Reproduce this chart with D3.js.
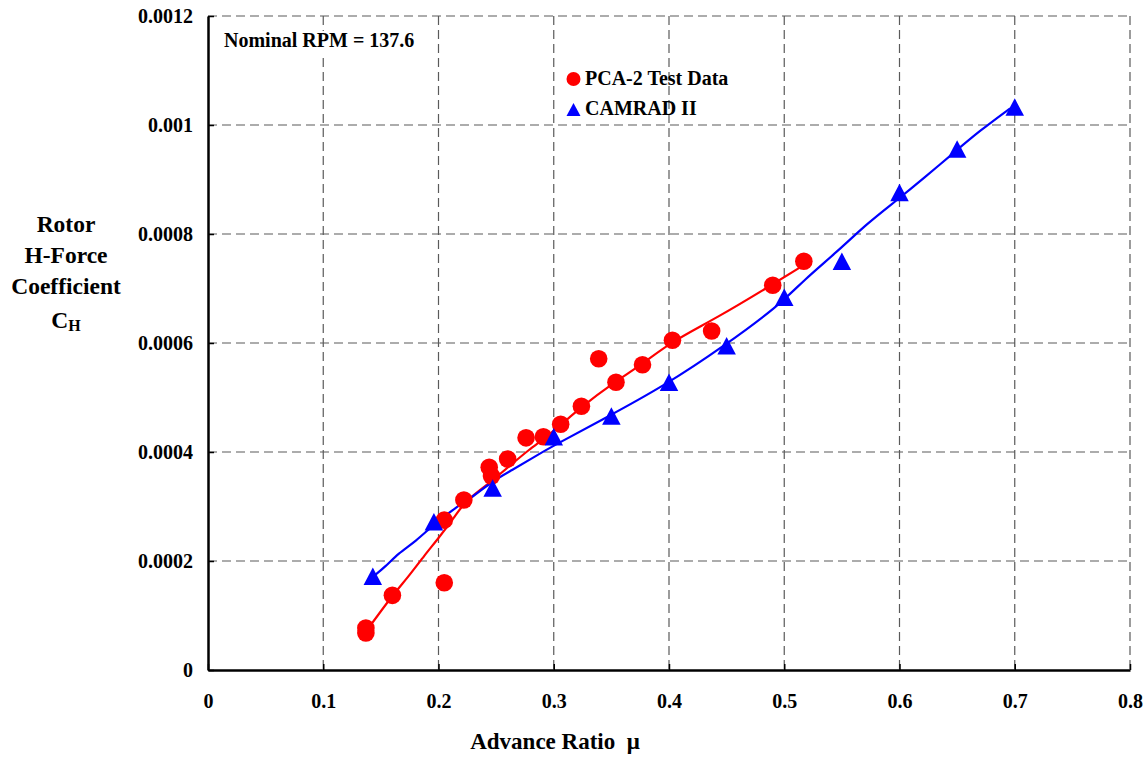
<!DOCTYPE html>
<html><head><meta charset="utf-8">
<script src="https://cdn.jsdelivr.net/npm/d3@7"></script>
<style>body{margin:0;background:#fff}svg{display:block}</style>
</head><body>
<svg id="c" width="1148" height="759"></svg>
<script>
// PCA-2 test data (advance ratio, CH)
const testMu = [0.137,0.137,0.160,0.205,0.205,0.222,0.244,0.246,0.260,0.276,0.291,0.306,0.324,0.339,0.354,0.377,0.403,0.437,0.490,0.517];
const testCH = [0.000077,0.000068,0.000137,0.000160,0.000275,0.000312,0.000372,0.000356,0.000387,0.000426,0.000428,0.000451,0.000484,0.000571,0.000528,0.000560,0.000605,0.000622,0.000706,0.000750];
// CAMRAD II predictions
const camMu = [0.143,0.196,0.247,0.300,0.350,0.400,0.450,0.500,0.550,0.600,0.650,0.700];
const camCH = [0.000172,0.000272,0.000334,0.000428,0.000466,0.000528,0.000595,0.000684,0.000750,0.000876,0.000956,0.001033];
// trend curves
const testTrendMu = [0.136,0.159,0.174,0.188,0.200,0.214,0.223,0.238,0.249,0.261,0.278,0.298,0.324,0.353,0.376,0.402,0.441,0.489,0.517];
const testTrendCH = [0.0000673,0.0001345,0.0001712,0.000211,0.0002417,0.0002813,0.0003088,0.0003334,0.0003517,0.000373,0.0004037,0.0004343,0.0004831,0.000529,0.0005596,0.0006024,0.0006453,0.0007064,0.0007431];
const camTrendMu = [0.143,0.154,0.165,0.180,0.197,0.214,0.232,0.246,0.264,0.281,0.298,0.347,0.397,0.447,0.496,0.517,0.546,0.572,0.598,0.621,0.647,0.670,0.696];
const camTrendCH = [0.000171,0.0001895,0.0002141,0.0002354,0.0002692,0.0002967,0.0003211,0.0003455,0.000367,0.0003884,0.0004097,0.0004648,0.0005229,0.0005932,0.0006697,0.0007156,0.0007675,0.0008196,0.0008624,0.0009022,0.000949,0.000990,0.0010306];
const xTicks = [0,0.1,0.2,0.3,0.4,0.5,0.6,0.7,0.8];
const yTicks = [0,0.0002,0.0004,0.0006,0.0008,0.001,0.0012];
const yTickLabels = ["0","0.0002","0.0004","0.0006","0.0008","0.001","0.0012"];

const svg = d3.select("#c");
const F = "'Liberation Serif','Times New Roman',serif";
const L=208, R=1130, T=16, B=670;
const x = d3.scaleLinear().domain([0,0.8]).range([L,R]);
const y = d3.scaleLinear().domain([0,0.0012]).range([B,T]);

// grid
const g = svg.append("g");
g.selectAll(".vg").data(xTicks.slice(1)).join("line")
  .attr("x1",d=>x(d)).attr("x2",d=>x(d)).attr("y1",T).attr("y2",B)
  .attr("stroke","#5a5a5a").attr("stroke-width",1.2).attr("stroke-dasharray","9,5");
g.selectAll(".hg").data(yTicks.slice(1)).join("line")
  .attr("x1",L).attr("x2",R).attr("y1",d=>y(d)).attr("y2",d=>y(d))
  .attr("stroke","#5a5a5a").attr("stroke-width",1.2).attr("stroke-dasharray","9,5");

// axes
const xAxis = d3.axisBottom(x).tickValues(xTicks).tickSizeInner(-6).tickSizeOuter(0).tickFormat(d=>d===0?"0":d3.format(".1f")(d)).tickPadding(24);
const yAxis = d3.axisLeft(y).tickValues(yTicks).tickSizeInner(-6).tickSizeOuter(0).tickFormat((d,i)=>yTickLabels[i]).tickPadding(15);
const gx = svg.append("g").attr("transform",`translate(0,${B})`).call(xAxis);
const gy = svg.append("g").attr("transform",`translate(${L},0)`).call(yAxis);
[gx,gy].forEach(a=>{
  a.select(".domain").attr("stroke","#000").attr("stroke-width",2.5);
  a.selectAll(".tick line").attr("stroke","#000").attr("stroke-width",1.5);
  a.selectAll(".tick text").attr("font-family",F).attr("font-weight","bold").attr("font-size",20).attr("fill","#000");
});

// trend lines
const line = d3.line().x(d=>x(d[0])).y(d=>y(d[1])).curve(d3.curveBasis);
svg.append("path").datum(testTrendMu.map((m,i)=>[m,testTrendCH[i]]))
  .attr("d",line).attr("fill","none").attr("stroke","#ff0000").attr("stroke-width",2.2);
svg.append("path").datum(camTrendMu.map((m,i)=>[m,camTrendCH[i]]))
  .attr("d",line).attr("fill","none").attr("stroke","#0000ff").attr("stroke-width",2.2);

// markers
svg.selectAll(".pt").data(testMu.map((m,i)=>[m,testCH[i]])).join("circle")
  .attr("cx",d=>x(d[0])).attr("cy",d=>y(d[1])).attr("r",8.8).attr("fill","#ff0000");
const triPath = (w,h)=>`M0,${-h/2}L${w/2},${h/2}L${-w/2},${h/2}Z`;
svg.selectAll(".tr").data(camMu.map((m,i)=>[m,camCH[i]])).join("path")
  .attr("d",triPath(18.5,17.5)).attr("transform",d=>`translate(${x(d[0])},${y(d[1])})`).attr("fill","#0000ff");

// annotation
svg.append("rect").attr("x",219).attr("y",31).attr("width",198).attr("height",22).attr("fill","#fff");
svg.append("text").attr("x",224).attr("y",47).attr("font-family",F).attr("font-weight","bold")
  .attr("font-size",20).text("Nominal RPM = 137.6");

// legend
svg.append("circle").attr("cx",573.5).attr("cy",79).attr("r",7).attr("fill","#ff0000");
svg.append("text").attr("x",585).attr("y",85).attr("font-family",F).attr("font-weight","bold").attr("font-size",20).text("PCA-2 Test Data");
svg.append("path").attr("d",triPath(14,13)).attr("transform","translate(573.5,109.5)").attr("fill","#0000ff");
svg.append("text").attr("x",585).attr("y",115).attr("font-family",F).attr("font-weight","bold").attr("font-size",20).text("CAMRAD II");

// axis titles
svg.append("text").attr("x",555).attr("y",749).attr("text-anchor","middle").attr("font-family",F)
  .attr("font-weight","bold").attr("font-size",23).attr("xml:space","preserve").text("Advance Ratio  μ");
const yt = svg.append("text").attr("text-anchor","middle").attr("font-family",F).attr("font-weight","bold").attr("font-size",23.5);
yt.append("tspan").attr("x",66).attr("y",232).text("Rotor");
yt.append("tspan").attr("x",66).attr("y",263).text("H-Force");
yt.append("tspan").attr("x",66).attr("y",294).text("Coefficient");
const ch = svg.append("text").attr("x",66).attr("y",328).attr("text-anchor","middle").attr("font-family",F).attr("font-weight","bold").attr("font-size",23.5);
ch.append("tspan").text("C");
ch.append("tspan").attr("font-size",16).attr("dy",3).text("H");
</script>
</body></html>
